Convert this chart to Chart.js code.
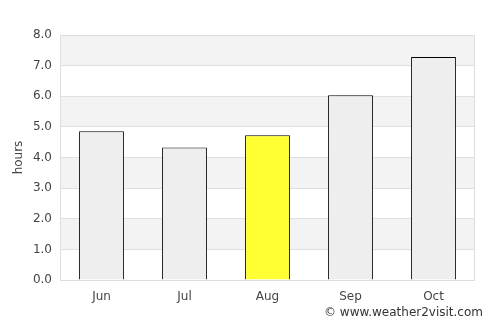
<!DOCTYPE html>
<html>
<head>
<meta charset="utf-8">
<script src="https://cdn.jsdelivr.net/npm/chart.js@4/dist/chart.umd.min.js"></script>
<style>
  html, body { margin: 0; padding: 0; background: #fff; }
  #wrap { width: 500px; height: 325px; }
</style>
</head>
<body>
<div id="wrap"><canvas id="chart" width="500" height="325"></canvas></div>
<script>
const months = ['Jun', 'Jul', 'Aug', 'Sep', 'Oct'];
const hours = [4.86, 4.33, 4.73, 6.03, 7.28];
const barColors = ['#eeeeee', '#eeeeee', '#ffff33', '#eeeeee', '#eeeeee'];
const yTicks = [0, 1, 2, 3, 4, 5, 6, 7, 8];

// alternating bands plus outer frame of the plot
const bandsPlugin = {
    id: 'bands',
    beforeDraw(chart) {
        const { ctx, chartArea, scales } = chart;
        const y = scales.y;
        ctx.save();
        for (let i = 0; i < yTicks.length - 1; i++) {
            if (i % 2 === 1) {
                const top = y.getPixelForValue(yTicks[i + 1]);
                const bottom = y.getPixelForValue(yTicks[i]);
                ctx.fillStyle = '#f3f3f3';
                ctx.fillRect(chartArea.left, top, chartArea.right - chartArea.left, bottom - top);
            }
        }
        ctx.restore();
    },
    afterDraw(chart) {
        const { ctx, chartArea } = chart;
        ctx.save();
        ctx.strokeStyle = '#dddddd';
        ctx.lineWidth = 1;
        ctx.strokeRect(chartArea.left + 0.5, chartArea.top + 0.5,
            chartArea.right - chartArea.left - 1, chartArea.bottom - chartArea.top);
        ctx.fillStyle = '#333333';
        ctx.font = '12px "DejaVu Sans"';
        ctx.textAlign = 'right';
        ctx.textBaseline = 'middle';
        ctx.fillText('\u00a9 www.weather2visit.com', 483, 313);
        ctx.restore();
    }
};

new Chart(document.getElementById('chart'), {
    type: 'bar',
    data: {
        labels: months,
        datasets: [{
            data: hours,
            backgroundColor: barColors,
            borderColor: '#000000',
            borderWidth: 1,
            categoryPercentage: 1,
            barPercentage: 0.54
        }]
    },
    options: {
        responsive: false,
        animation: false,
        layout: { padding: { top: 35, right: 25, left: 0, bottom: 0 } },
        plugins: {
            legend: { display: false },
            tooltip: { enabled: false }
        },
        scales: {
            x: {
                grid: { display: false },
                border: { display: false },
                ticks: { color: '#444444', font: { family: 'DejaVu Sans', size: 12 }, padding: 2 },
                afterFit(scale) { scale.height = 45; }
            },
            y: {
                min: 0,
                max: 8,
                ticks: {
                    stepSize: 1,
                    color: '#444444',
                    font: { family: 'DejaVu Sans', size: 12 },
                    padding: 8,
                    callback: v => v.toFixed(1)
                },
                grid: { color: '#e0e0e0', drawTicks: false },
                border: { display: false },
                title: {
                    display: true,
                    text: 'hours',
                    color: '#444444',
                    font: { family: 'DejaVu Sans', size: 12 },
                    padding: { top: 12, bottom: 0 }
                },
                afterFit(scale) { scale.width = 60; }
            }
        }
    },
    plugins: [bandsPlugin]
});
</script>
</body>
</html>
